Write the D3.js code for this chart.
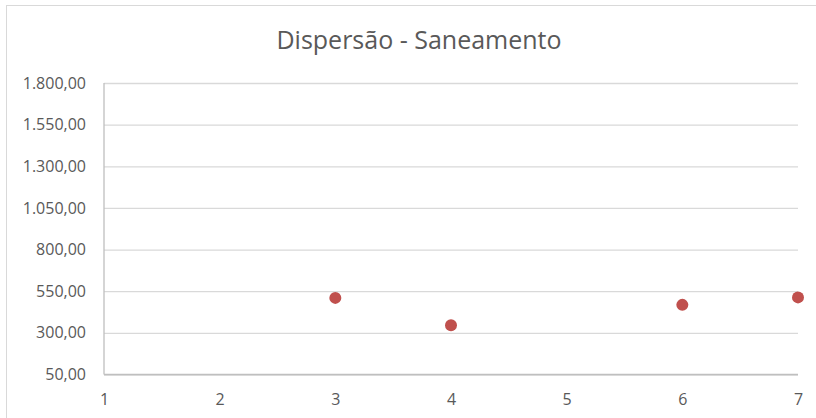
<!DOCTYPE html>
<html><head><meta charset="utf-8">
<script src="https://cdn.jsdelivr.net/npm/d3@7"></script>
<style>body{margin:0;background:#fff;} svg{display:block;}</style>
</head><body>
<svg id="c" width="816" height="418"></svg>
<script>
const title = "Dispersão - Saneamento";
const xValues = [3, 4, 6, 7];
const yValues = [510, 346, 468, 513];
const xTicks = [1, 2, 3, 4, 5, 6, 7];
const yTicks = [50, 300, 550, 800, 1050, 1300, 1550, 1800];

const svg = d3.select("#c");
const W = 816, H = 418;
const m = {left: 104, right: 18, top: 83, bottom: 43.5};
const x = d3.scaleLinear().domain([1, 7]).range([m.left, W - m.right]);
const y = d3.scaleLinear().domain([50, 1800]).range([H - m.bottom, m.top]);

svg.append("rect").attr("x", 6.5).attr("y", 5.5).attr("width", W + 10).attr("height", H + 10)
  .attr("fill", "#fff").attr("stroke", "#d9d9d9").attr("stroke-width", 1);

const fmt = v => d3.formatLocale({decimal: ",", thousands: ".", grouping: [3], currency: ["R$", ""]}).format(",.2f")(v);

const yAxis = d3.axisLeft(y).tickValues(yTicks).tickSize(-(W - m.left - m.right)).tickPadding(18).tickFormat(fmt);
const gy = svg.append("g").attr("transform", `translate(${m.left},0)`).call(yAxis);
gy.select(".domain").remove();
gy.selectAll(".tick line").attr("stroke", "#d9d9d9").attr("stroke-width", 1.3);
gy.selectAll(".tick text").attr("fill", "#595959").attr("font-family", "Open Sans").attr("font-size", 16);

const xAxis = d3.axisBottom(x).tickValues(xTicks).tickSize(0).tickPadding(19).tickFormat(d3.format("d"));
const gx = svg.append("g").attr("transform", `translate(0,${y(50)})`).call(xAxis);
gx.select(".domain").remove();
gx.selectAll(".tick text").attr("fill", "#595959").attr("font-family", "Open Sans").attr("font-size", 16);

svg.append("line").attr("x1", x(1)).attr("x2", x(1)).attr("y1", y(1800)).attr("y2", y(50))
  .attr("stroke", "#bfbfbf").attr("stroke-width", 1.3);
svg.append("line").attr("x1", x(1)).attr("x2", x(7)).attr("y1", y(50)).attr("y2", y(50))
  .attr("stroke", "#bfbfbf").attr("stroke-width", 1.3);

svg.append("text").attr("x", 419).attr("y", 48.5).attr("text-anchor", "middle")
  .attr("fill", "#595959").attr("font-family", "Open Sans").attr("font-size", 25).text(title);

const pts = xValues.map((v, i) => ({x: v, y: yValues[i]}));
svg.append("g").selectAll("circle").data(pts).join("circle")
  .attr("cx", d => x(d.x)).attr("cy", d => y(d.y)).attr("r", 6).attr("fill", "#c0504d");
</script>
</body></html>
